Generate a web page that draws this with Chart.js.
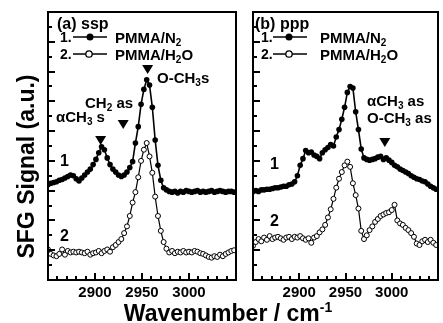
<!DOCTYPE html>
<html>
<head>
<meta charset="utf-8">
<script src="https://cdn.jsdelivr.net/npm/chart.js@4"></script>
<style>
body { margin: 0; background: #fff; }
#wrap { position: relative; width: 443px; height: 323px; overflow: hidden;
        font-family: "Liberation Sans", Arial, sans-serif; font-weight: bold; color: #000; }
canvas { position: absolute; left: 0; top: 0; }
svg { position: absolute; left: 0; top: 0; }
.t { position: absolute; white-space: nowrap; font-size: 15px; line-height: 15px; }
.n { font-size: 16px; line-height: 16px; }
.t sub { font-size: 10px; line-height: 0; vertical-align: -3px; }
#ytitle { position: absolute; width: 240px; left: -94px; top: 155px; text-align: center;
          font-size: 23px; line-height: 23px; transform: rotate(-90deg); white-space: nowrap; }
#xtitle { position: absolute; width: 400px; left: 28px; top: 302px; text-align: center;
          font-size: 23px; line-height: 23px; white-space: nowrap; }
#xtitle sup { font-size: 14px; line-height: 0; vertical-align: 9px; }
</style>
</head>
<body>
<div id="wrap">
  <canvas id="chartA" width="443" height="323"></canvas>
  <canvas id="chartB" width="443" height="323"></canvas>
  <svg width="443" height="80">
    <line x1="73" y1="37" x2="107" y2="37" stroke="#000" stroke-width="1.5"/>
    <circle cx="90" cy="37" r="3.5" fill="#000"/>
    <line x1="73" y1="54" x2="107" y2="54" stroke="#000" stroke-width="1.5"/>
    <circle cx="89" cy="54" r="3.2" fill="#fff" stroke="#000" stroke-width="1.3"/>
    <line x1="273" y1="37" x2="307" y2="37" stroke="#000" stroke-width="1.5"/>
    <circle cx="289" cy="37" r="3.5" fill="#000"/>
    <line x1="273" y1="54" x2="307" y2="54" stroke="#000" stroke-width="1.5"/>
    <circle cx="289" cy="54" r="3.2" fill="#fff" stroke="#000" stroke-width="1.3"/>
  </svg>

  <div class="t" style="left:57px;top:16px;font-size:16px;line-height:16px;">(a) ssp</div>
  <div class="t" style="left:60px;top:30px;font-size:14px;">1.</div>
  <div class="t" style="left:60px;top:47px;font-size:14px;">2.</div>
  <div class="t" style="left:115px;top:30px;">PMMA/N<sub>2</sub></div>
  <div class="t" style="left:115px;top:47px;">PMMA/H<sub>2</sub>O</div>
  <div class="t" style="left:56px;top:109px;">αCH<sub>3</sub> s</div>
  <div class="t" style="left:85px;top:95px;">CH<sub>2</sub> as</div>
  <div class="t" style="left:157px;top:70px;">O-CH<sub>3</sub>s</div>
  <div class="t n" style="left:60px;top:153px;">1</div>
  <div class="t n" style="left:60px;top:228px;">2</div>

  <div class="t" style="left:255px;top:16px;font-size:16px;line-height:16px;">(b) ppp</div>
  <div class="t" style="left:261px;top:30px;font-size:14px;">1.</div>
  <div class="t" style="left:261px;top:47px;font-size:14px;">2.</div>
  <div class="t" style="left:320px;top:30px;">PMMA/N<sub>2</sub></div>
  <div class="t" style="left:320px;top:47px;">PMMA/H<sub>2</sub>O</div>
  <div class="t" style="left:367px;top:93px;">αCH<sub>3</sub> as</div>
  <div class="t" style="left:367px;top:110px;">O-CH<sub>3</sub> as</div>
  <div class="t n" style="left:270px;top:156px;">1</div>
  <div class="t n" style="left:270px;top:213px;">2</div>

  <div id="ytitle">SFG Signal (a.u.)</div>
  <div id="xtitle">Wavenumber / cm<sup>-1</sup></div>
</div>

<script>
// wavenumber (cm-1) of each measured point
const wavenumbers = [
  2850, 2853, 2856, 2859, 2862, 2865, 2868, 2871, 2874, 2877,
  2880, 2883, 2886, 2889, 2892, 2895, 2898, 2901, 2904, 2907,
  2910, 2913, 2916, 2919, 2922, 2925, 2928, 2931, 2934, 2937,
  2940, 2943, 2946, 2949, 2952, 2955, 2958, 2961, 2964, 2967,
  2970, 2973, 2976, 2979, 2982, 2985, 2988, 2991, 2994, 2997,
  3000, 3003, 3006, 3009, 3012, 3015, 3018, 3021, 3024, 3027,
  3030, 3033, 3036, 3039, 3042, 3045, 3048
];

// (a) ssp
const sspN2 = [
  6.40, 6.50, 6.55, 6.60, 6.70, 6.75, 6.85, 6.95, 7.05, 7.00,
  6.80, 6.65, 6.85, 7.05, 7.25, 7.45, 7.75, 8.10, 8.55, 8.95,
  8.75, 8.20, 7.75, 7.45, 7.25, 7.05, 6.95, 7.05, 7.25, 7.55,
  7.95, 9.20, 10.30, 11.80, 12.80, 13.45, 13.10, 11.60, 9.40, 7.70,
  6.70, 6.20, 6.05, 5.95, 5.90, 5.95, 5.85, 5.95, 5.90, 6.00,
  5.95, 5.90, 5.95, 6.00, 5.90, 5.95, 5.90, 5.95, 6.00, 5.90,
  5.95, 6.00, 5.95, 5.90, 5.95, 5.95, 5.90
];
const sspH2O = [
  2.05, 1.75, 1.65, 1.60, 1.75, 2.05, 1.70, 1.95, 1.85, 1.90,
  1.85, 1.90, 1.85, 1.80, 1.90, 1.70, 1.80, 1.85, 1.95, 1.80,
  1.95, 2.05, 1.90, 2.20, 2.35, 2.55, 2.75, 3.15, 3.60, 4.30,
  5.20, 5.90, 6.90, 8.00, 8.75, 9.20, 8.30, 7.20, 5.60, 4.30,
  3.30, 2.55, 2.10, 1.85, 1.95, 1.80, 1.90, 1.85, 1.95, 1.85,
  1.90, 1.85, 1.95, 1.90, 1.80, 1.75, 1.65, 1.55, 1.50, 1.60,
  1.55, 1.70, 1.60, 1.75, 1.85, 1.95, 2.00
];

// (b) ppp
const pppN2 = [
  5.95, 6.00, 5.95, 6.05, 6.05, 6.10, 6.10, 6.15, 6.20, 6.20,
  6.25, 6.30, 6.30, 6.40, 6.45, 6.60, 7.00, 7.70, 8.15, 8.70,
  8.55, 8.60, 8.40, 8.30, 8.15, 8.55, 8.75, 8.90, 9.10, 9.00,
  9.60, 10.10, 10.80, 11.60, 12.60, 13.00, 12.90, 11.30, 10.10, 8.80,
  8.20, 8.10, 8.05, 8.10, 8.15, 8.25, 8.30, 8.10, 8.20, 8.05,
  7.90, 7.70, 7.60, 7.45, 7.35, 7.25, 7.15, 7.00, 6.90, 6.80,
  6.75, 6.65, 6.60, 6.45, 6.30, 6.20, 6.10
];
const pppH2O = [
  2.30, 2.55, 2.75, 2.60, 2.85, 2.70, 2.95, 2.75, 2.85, 2.90,
  2.80, 2.70, 2.85, 2.90, 2.75, 2.90, 2.85, 2.95, 2.80, 2.70,
  2.80, 2.50, 2.85, 2.95, 3.20, 3.40, 3.70, 4.20, 4.75, 5.45,
  6.20, 6.80, 7.25, 7.70, 7.95, 7.60, 6.50, 5.70, 4.80, 3.30,
  2.75, 3.00, 3.35, 3.60, 3.90, 4.10, 4.30, 4.40, 4.50, 4.55,
  4.70, 5.05, 4.00, 3.80, 3.70, 3.50, 3.35, 3.15, 2.90, 2.45,
  2.35, 2.60, 2.70, 2.55, 2.70, 2.50, 2.35
];

const xTickLabels = [2900, 2950, 3000];

// peak assignment markers: [wavenumber, signal at top of triangle]
const sspMarkers = [[2906, 9.67], [2930, 10.75], [2956, 14.44]];
const pppMarkers = [[2992.5, 9.54]];

const FONT = 'Liberation Sans';

function toPoints(vals) {
  return wavenumbers.map((w, i) => ({ x: w, y: vals[i] }));
}

// inward ticks, box frame and the down-pointing markers
const frameTicks = {
  id: 'frameTicks',
  afterDatasetsDraw(chart, args, opts) {
    const { ctx, chartArea: a, scales: { x, y } } = chart;
    ctx.save();
    ctx.strokeStyle = '#000';
    ctx.lineWidth = 2;
    ctx.beginPath();
    for (let w = 2850; w <= 3050; w += 10) {
      const px = Math.round(x.getPixelForValue(w));
      const len = w % 50 === 0 ? 7 : 4;
      ctx.moveTo(px, a.bottom);
      ctx.lineTo(px, a.bottom - len);
    }
    for (let v = 0; v <= 18; v++) {
      const py = Math.round(y.getPixelForValue(v));
      const len = v % 2 === 0 ? 7 : 4;
      ctx.moveTo(a.left, py);
      ctx.lineTo(a.left + len, py);
    }
    ctx.stroke();
    ctx.strokeRect(a.left, a.top, a.right - a.left, a.bottom - a.top);

    ctx.fillStyle = '#000';
    (opts.markers || []).forEach(([w, v]) => {
      const px = x.getPixelForValue(w);
      const py = y.getPixelForValue(v);
      ctx.beginPath();
      ctx.moveTo(px - 5.5, py);
      ctx.lineTo(px + 5.5, py);
      ctx.lineTo(px, py + 9);
      ctx.closePath();
      ctx.fill();
    });
    ctx.restore();
  }
};

function makePanel(id, padLeft, padRight, n2, h2o, markers) {
  return new Chart(document.getElementById(id), {
    type: 'line',
    data: {
      datasets: [
        {
          data: toPoints(h2o),
          borderColor: '#000',
          borderWidth: 1.2,
          pointRadius: 2.5,
          pointBackgroundColor: '#fff',
          pointBorderColor: '#000',
          pointBorderWidth: 1,
          tension: 0
        },
        {
          data: toPoints(n2),
          borderColor: '#000',
          borderWidth: 1.6,
          pointRadius: 2.8,
          pointBackgroundColor: '#000',
          pointBorderColor: '#000',
          pointBorderWidth: 0,
          tension: 0
        }
      ]
    },
    options: {
      responsive: false,
      animation: false,
      events: [],
      layout: { padding: { left: padLeft, right: padRight, top: 12, bottom: 0 } },
      plugins: {
        legend: { display: false },
        tooltip: { enabled: false },
        frameTicks: { markers: markers }
      },
      scales: {
        x: {
          type: 'linear',
          min: 2850,
          max: 3050,
          grid: { display: false, drawTicks: false },
          border: { display: false },
          afterBuildTicks: s => { s.ticks = xTickLabels.map(v => ({ value: v })); },
          afterFit: s => { s.height = 43; },
          ticks: {
            padding: 4,
            color: '#000',
            maxRotation: 0,
            autoSkip: false,
            callback: v => String(v),
            font: { family: FONT, size: 15, weight: 'bold' }
          }
        },
        y: { display: false, min: 0, max: 18 }
      }
    },
    plugins: [frameTicks]
  });
}

makePanel('chartA', 48, 207, sspN2, sspH2O, sspMarkers);
makePanel('chartB', 253, 2, pppN2, pppH2O, pppMarkers);
</script>
</body>
</html>
